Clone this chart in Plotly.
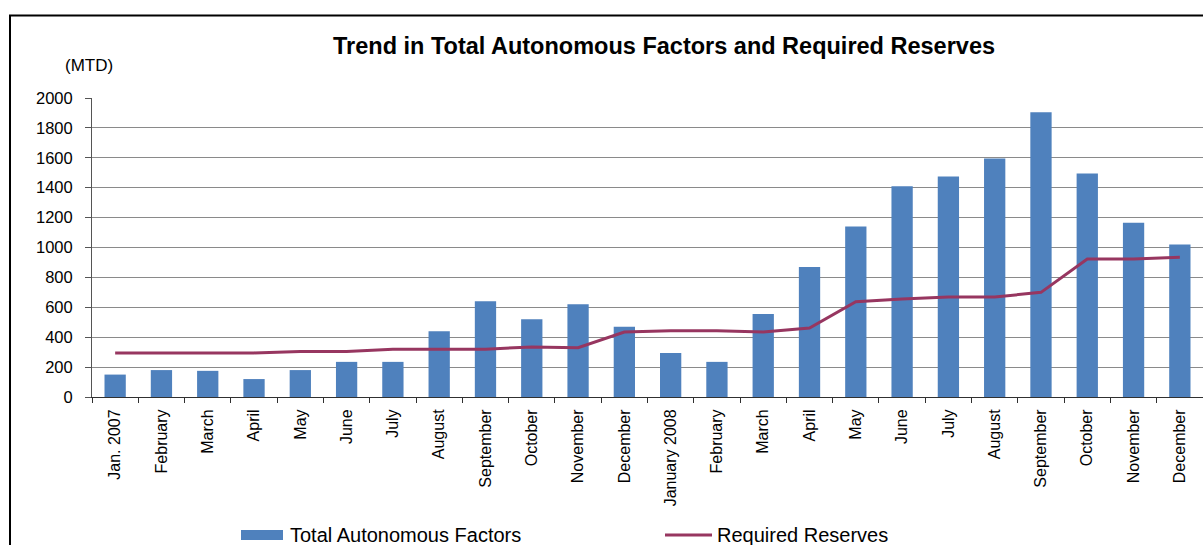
import plotly.graph_objects as go

# Monthly observations, Jan 2007 - Dec 2008 (MTD)
month_labels = [
    "Jan. 2007", "February", "March", "April", "May", "June", "July",
    "August", "September", "October", "November", "December",
    "January 2008", "February", "March", "April", "May", "June", "July",
    "August", "September", "October", "November", "December",
]
autonomous_factors = [
    150, 180, 175, 120, 180, 235, 235, 440, 640, 520, 620, 470,
    295, 235, 555, 870, 1140, 1410, 1475, 1595, 1905, 1495, 1165, 1020,
]
required_reserves = [
    295, 295, 295, 295, 305, 305, 320, 320, 320, 335, 330, 435,
    443, 443, 435, 461, 637, 655, 669, 669, 700, 923, 923, 934,
]
y_ticks = [0, 200, 400, 600, 800, 1000, 1200, 1400, 1600, 1800, 2000]

BAR_BLUE = "#4F81BD"
LINE_RED = "#973660"
FONT = "Liberation Sans, Arial, sans-serif"

W, H = 1203, 545
L, R, T, B = 92, 0, 98, 148
PW, PH = W - L - R, H - T - B

def px_x(px):
    return (px - L) / PW

def px_y(py):
    return (H - B - py) / PH

pos = list(range(len(month_labels)))

fig = go.Figure()
fig.add_trace(go.Bar(
    x=pos, y=autonomous_factors, name="Total Autonomous Factors",
    marker=dict(color=BAR_BLUE, line=dict(width=0)),
))
fig.add_trace(go.Scatter(
    x=pos, y=required_reserves, name="Required Reserves",
    mode="lines", line=dict(color=LINE_RED, width=3),
))

fig.update_layout(
    width=W, height=H,
    margin=dict(l=L, r=R, t=T, b=B, pad=0),
    paper_bgcolor="white", plot_bgcolor="white",
    showlegend=False, bargap=0.54,
    font=dict(family=FONT, color="black"),
)
fig.update_xaxes(
    range=[-0.5, len(month_labels) - 0.5],
    tickmode="array", tickvals=pos, ticktext=month_labels,
    tickangle=-90, tickfont=dict(size=16, family=FONT),
    ticks="", ticklabelstandoff=5,
    showline=True, linecolor="#303030", linewidth=1,
    showgrid=False, zeroline=False,
    minor=dict(
        tickmode="array",
        tickvals=[p - 0.5 for p in pos] + [len(pos) - 0.5],
        ticks="outside", ticklen=5, tickcolor="#303030", tickwidth=1,
        showgrid=False,
    ),
)
fig.update_yaxes(
    range=[0, 2000], tickmode="array", tickvals=y_ticks,
    tickfont=dict(size=16.5, family=FONT),
    ticks="outside", ticklen=6, tickcolor="#555555",
    ticklabelstandoff=9,
    showline=True, linecolor="#555555", linewidth=1,
    showgrid=True, gridcolor="#8a8a8a", gridwidth=1,
    zeroline=False,
)

shapes = [
    # chart frame
    dict(type="rect", xref="paper", yref="paper",
         x0=px_x(10), x1=px_x(1230), y0=px_y(15.5), y1=px_y(580),
         line=dict(color="black", width=2), fillcolor="rgba(0,0,0,0)",
         layer="above"),
    # legend keys
    dict(type="rect", xref="paper", yref="paper",
         x0=px_x(241), x1=px_x(283), y0=px_y(540), y1=px_y(530),
         line=dict(width=0), fillcolor=BAR_BLUE),
    dict(type="line", xref="paper", yref="paper",
         x0=px_x(665), x1=px_x(712), y0=px_y(535), y1=px_y(535),
         line=dict(color=LINE_RED, width=3)),
]

annotations = [
    dict(text="<b>Trend in Total Autonomous Factors and Required Reserves</b>",
         xref="paper", yref="paper", x=px_x(664), y=px_y(46),
         xanchor="center", yanchor="middle", showarrow=False,
         font=dict(size=23.5, family=FONT)),
    dict(text="(MTD)", xref="paper", yref="paper", x=px_x(89), y=px_y(65),
         xanchor="center", yanchor="middle", showarrow=False,
         font=dict(size=17, family=FONT)),
    dict(text="Total Autonomous Factors", xref="paper", yref="paper",
         x=px_x(288), y=px_y(535), xanchor="left", yanchor="middle",
         showarrow=False, font=dict(size=20, family=FONT)),
    dict(text="Required Reserves", xref="paper", yref="paper",
         x=px_x(715), y=px_y(535), xanchor="left", yanchor="middle",
         showarrow=False, font=dict(size=20, family=FONT)),
]

fig.update_layout(shapes=shapes, annotations=annotations)
fig.write_html("out.html")
